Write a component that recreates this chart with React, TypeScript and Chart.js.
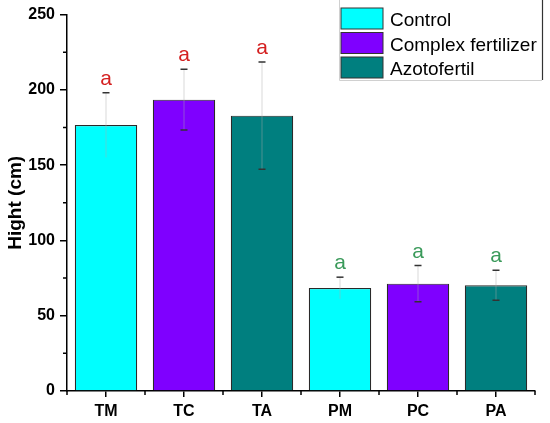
import React, { useEffect, useRef } from "react";
import { Chart, registerables } from "chart.js";

Chart.register(...registerables);

const categories = ["TM", "TC", "TA", "PM", "PC", "PA"];
const heights = [176.6, 193.5, 182.9, 68.4, 71.3, 70.2];
const errors = [21.5, 20.2, 35.6, 7.2, 12.0, 10.0];
const letters = ["a", "a", "a", "a", "a", "a"];
const letterColors = ["#D42020", "#D42020", "#D42020", "#3A9A5A", "#3A9A5A", "#3A9A5A"];
const seriesNames = ["Control", "Complex fertilizer", "Azotofertil"];
const seriesColors = ["#00FFFF", "#7F00FF", "#007F7F"];
const barSeries = [0, 1, 2, 0, 1, 2];
const lowerCapShown = [false, true, true, false, true, true];
const yMin = 0;
const yMax = 250;
const yStep = 50;
const yMinorValues = [25, 75, 125, 175, 225];
const yTitle = "Hight (cm)";

const FONT = "'Liberation Sans', Arial, sans-serif";

const overlayPlugin = {
  id: "overlay",
  afterDatasetsDraw(chart: any) {
    const ctx = chart.ctx;
    const xs = chart.scales.x;
    const ys = chart.scales.y;
    const area = chart.chartArea;
    const meta = chart.getDatasetMeta(0);
    ctx.save();

    // error bars + letters
    heights.forEach((v, i) => {
      const cx = meta.data[i].x;
      const yTop = ys.getPixelForValue(v + errors[i]);
      const yBot = ys.getPixelForValue(v - errors[i]);
      ctx.strokeStyle = "rgba(170,170,170,0.45)";
      ctx.lineWidth = 1;
      ctx.beginPath();
      ctx.moveTo(cx, yTop);
      ctx.lineTo(cx, yBot);
      ctx.stroke();
      ctx.strokeStyle = "#333";
      ctx.lineWidth = 1.5;
      ctx.beginPath();
      ctx.moveTo(cx - 3.5, yTop);
      ctx.lineTo(cx + 3.5, yTop);
      if (lowerCapShown[i]) {
        ctx.moveTo(cx - 3.5, yBot);
        ctx.lineTo(cx + 3.5, yBot);
      }
      ctx.stroke();
      ctx.fillStyle = letterColors[i];
      ctx.font = `21px ${FONT}`;
      ctx.textAlign = "center";
      ctx.textBaseline = "alphabetic";
      ctx.fillText(letters[i], cx, yTop - 8);
    });

    // minor ticks y
    ctx.strokeStyle = "#000";
    ctx.lineWidth = 1.5;
    ctx.beginPath();
    yMinorValues.forEach((v) => {
      const py = ys.getPixelForValue(v);
      ctx.moveTo(area.left - 4, py);
      ctx.lineTo(area.left, py);
    });
    // minor ticks x at category boundaries
    const n = categories.length;
    for (let i = 0; i <= n; i++) {
      const px = xs.getPixelForValue(i - 0.5);
      ctx.moveTo(px, area.bottom);
      ctx.lineTo(px, area.bottom + 4);
    }
    ctx.stroke();

    // legend
    const boxL = 339;
    const boxR = 542;
    const boxT = -1;
    const boxB = 80;
    ctx.fillStyle = "#fff";
    ctx.fillRect(boxL, boxT, boxR - boxL, boxB - boxT);
    ctx.strokeStyle = "#d0d0d0";
    ctx.lineWidth = 1;
    ctx.beginPath();
    ctx.moveTo(boxL + 0.5, boxT);
    ctx.lineTo(boxL + 0.5, boxB + 0.5);
    ctx.lineTo(boxR, boxB + 0.5);
    ctx.stroke();
    ctx.strokeStyle = "#333";
    ctx.lineWidth = 1.2;
    ctx.beginPath();
    ctx.moveTo(boxR + 0.5, boxT);
    ctx.lineTo(boxR + 0.5, boxB);
    ctx.stroke();

    seriesNames.forEach((name, i) => {
      const sy = 8 + i * 24.5;
      ctx.fillStyle = seriesColors[i];
      ctx.fillRect(341, sy, 42, 21);
      ctx.strokeStyle = "#333";
      ctx.lineWidth = 1;
      ctx.strokeRect(341, sy, 42, 21);
      ctx.fillStyle = "#000";
      ctx.font = `19px ${FONT}`;
      ctx.textAlign = "left";
      ctx.textBaseline = "alphabetic";
      ctx.fillText(name, 390, sy + 18);
    });

    ctx.restore();
  },
};

export default function App() {
  const canvasRef = useRef<HTMLCanvasElement | null>(null);

  useEffect(() => {
    document.body.style.margin = "0";
    const canvas = canvasRef.current;
    if (!canvas) return;
    Chart.defaults.font.family = FONT;
    const chart = new Chart(canvas, {
      type: "bar",
      data: {
        labels: categories,
        datasets: [
          {
            data: heights,
            backgroundColor: barSeries.map((s) => seriesColors[s]),
            borderColor: "#2a2a2a",
            borderWidth: 1.2,
            barPercentage: 0.8,
            categoryPercentage: 1,
          },
        ],
      },
      options: {
        animation: false,
        responsive: true,
        maintainAspectRatio: false,
        layout: { padding: { top: 14, right: 15, left: 0, bottom: 0 } },
        plugins: {
          legend: { display: false },
          tooltip: { enabled: false },
        },
        scales: {
          x: {
            grid: {
              offset: false,
              drawOnChartArea: false,
              drawTicks: true,
              tickLength: 6,
              color: "#000",
              lineWidth: 1.5,
            },
            border: { display: true, color: "#000", width: 1.5 },
            ticks: {
              color: "#000",
              font: { size: 16, weight: "bold" },
              padding: 5,
              maxRotation: 0,
            },
            afterFit: (scale: any) => {
              scale.height = 32;
            },
          },
          y: {
            min: yMin,
            max: yMax,
            grid: {
              drawOnChartArea: false,
              drawTicks: true,
              tickLength: 7,
              color: "#000",
              lineWidth: 1.5,
            },
            border: { display: true, color: "#000", width: 1.5 },
            ticks: {
              stepSize: yStep,
              color: "#000",
              font: { size: 16, weight: "bold" },
              padding: 5,
            },
            title: {
              display: true,
              text: yTitle,
              color: "#000",
              font: { size: 19, weight: "bold" },
              padding: { top: 4, bottom: 0 },
            },
            afterFit: (scale: any) => {
              scale.width = 67;
            },
          },
        },
      },
      plugins: [overlayPlugin],
    });
    return () => chart.destroy();
  }, []);

  return (
    <div style={{ position: "relative", width: 550, height: 423 }}>
      <canvas ref={canvasRef} />
    </div>
  );
}
